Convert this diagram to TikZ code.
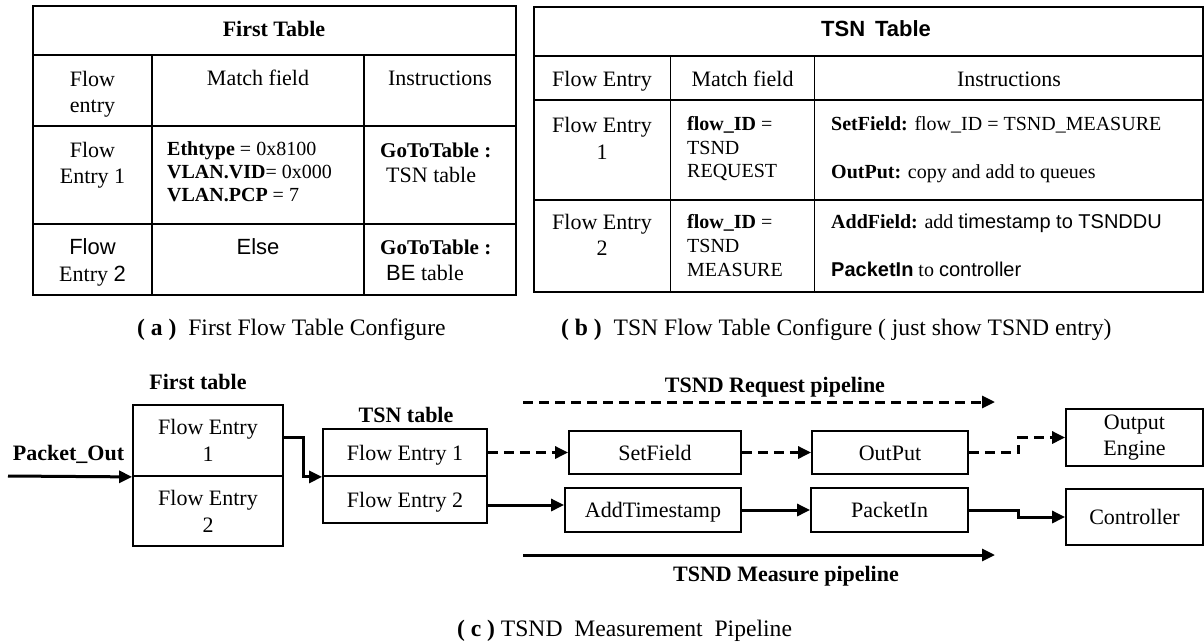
\documentclass[tikz,border=0pt]{standalone}
\usepackage{fontspec}
\setmainfont{Liberation Serif}
\setsansfont{Liberation Sans}
\usetikzlibrary{arrows.meta,calc}

\newcommand\txtL{\fontsize{22}{26}\selectfont}
\newcommand\txtS{\fontsize{20}{24}\selectfont}
\newcommand\txtC{\fontsize{23.6}{28}\selectfont}

\begin{document}
\begin{tikzpicture}[x=1pt,y=-1pt,
  t/.style={inner sep=0pt, anchor=base, font=\txtL},
  tl/.style={t, anchor=base west},
  ts/.style={inner sep=0pt, anchor=base west, font=\txtS},
  captext/.style={inner sep=0pt, font=\txtC},
  grid/.style={line width=1.8pt},
  box/.style={draw, line width=1.8pt, inner sep=0pt, align=center,
              font=\fontsize{22}{27}\selectfont},
  oneline/.style={text height=15pt, text depth=0pt},
  arr/.style={line width=3pt, -{Triangle[length=13pt,width=12pt]}},
  dsh/.style={arr, dash pattern=on 10pt off 6pt}]

\useasboundingbox (0,0) rectangle (1204,643);

% ---------- (a) first flow table ----------
\draw[grid] (33,6) rectangle (516,295);
\draw[grid] (33,55) -- (516,55) (33,126) -- (516,126) (33,224) -- (516,224);
\draw[grid] (152,55) -- (152,295) (364,55) -- (364,295);

\node[t] (ah) at (274,36.5) {\bfseries First Table};
\node[t] (ac1a) at (92.5,86.5) {Flow};
\node[t] (ac1b) at (92.5,112.5) {entry};
\node[t] (ac2) at (258,85.5) {Match field};
\node[t] (ac3) at (440,85.5) {Instructions};

\node[t] (ar1a) at (92.5,157.5) {Flow};
\node[t] (ar1b) at (92.5,183.5) {Entry 1};
\node[ts] (am1) at (167,155.5) {\textbf{Ethtype} = 0x8100};
\node[ts] (am2) at (167,178.5) {\textbf{VLAN.VID}= 0x000};
\node[ts] (am3) at (167,201.5) {\textbf{VLAN.PCP} = 7};
\node[tl, font=\fontsize{21}{25}\selectfont] (ai1) at (380,157.5) {\textbf{GoToTable :}};
\node[tl] (ai2) at (386,182.5) {TSN table};

\node[t] (ar2a) at (92.5,254.5) {\sffamily Flow};
\node[t] (ar2b) at (92.5,281) {Entry \sffamily 2};
\node[t] (aelse) at (258,254.5) {\sffamily Else};
\node[tl, font=\fontsize{21}{25}\selectfont] (ai3) at (380,254.5) {\textbf{GoToTable :}};
\node[tl] (ai4) at (386,280.5) {{\sffamily BE} table};

\node[captext, anchor=base west] (capa) at (137,335) {\textbf{( a )}\ \ First Flow Table Configure};

% ---------- (b) TSN flow table ----------
\draw[grid] (534,7) rectangle (1203,292);
\draw[grid] (534,56) -- (1203,56) (534,100) -- (1203,100) (534,200) -- (1203,200);
\draw[grid] (670.5,56) -- (670.5,292) (814.5,56) -- (814.5,292);

\node[t] (bh) at (876,36.5) {\sffamily\bfseries TSN\hspace{0.45em}Table};
\node[t] (bc1) at (602,86.5) {Flow Entry};
\node[t] (bc2) at (742.5,86.5) {Match field};
\node[t] (bc3) at (1009,86.5) {Instructions};

\node[t] (br1a) at (602,132.5) {Flow Entry};
\node[t] (br1b) at (602,159.5) {1};
\node[ts] (bm1) at (687,130.5) {\textbf{flow\_ID} =};
\node[ts] (bm2) at (687,154.5) {TSND};
\node[ts] (bm3) at (687,177.5) {REQUEST};
\node[ts] (bi1) at (831,130.5) {\textbf{SetField:} flow\_ID = TSND\_MEASURE};
\node[ts] (bi2) at (831,178.5) {\textbf{OutPut:} copy and add to queues};

\node[t] (br2a) at (602,229.5) {Flow Entry};
\node[t] (br2b) at (602,255.5) {2};
\node[ts] (bm4) at (687,228.5) {\textbf{flow\_ID} =};
\node[ts] (bm5) at (687,252.5) {TSND};
\node[ts] (bm6) at (687,276.5) {MEASURE};
\node[ts] (bi3) at (831,228.5) {\textbf{AddField:} add {\sffamily timestamp to TSNDDU}};
\node[ts] (bi4) at (831,276.5) {{\sffamily\bfseries PacketIn} to {\sffamily controller}};

\node[captext, anchor=base west] (capb) at (561,335) {\textbf{( b )}\ \ TSN Flow Table Configure ( just show TSND entry)};

% ---------- (c) TSND measurement pipeline ----------
\node[box, minimum width=150pt, minimum height=71pt] (ft1) at (208,440.5) {Flow Entry\\1};
\node[box, minimum width=150pt, minimum height=70pt] (ft2) at (208,511) {Flow Entry\\2};
\node[box, oneline, minimum width=164pt, minimum height=47pt] (ts1) at (405,452.5) {Flow Entry 1};
\node[box, oneline, minimum width=164pt, minimum height=47pt] (ts2) at (405,499.5) {Flow Entry 2};
\node[box, oneline, minimum width=172pt, minimum height=43pt] (sf) at (655,452.5) {SetField};
\node[box, oneline, minimum width=156pt, minimum height=43pt] (op) at (890,452.5) {OutPut};
\node[box, oneline, minimum width=176pt, minimum height=44pt] (at) at (653,510) {AddTimestamp};
\node[box, oneline, minimum width=157pt, minimum height=44pt] (pi) at (889.5,510) {PacketIn};
\node[box, minimum width=137pt, minimum height=57pt,
      font=\fontsize{22}{26}\selectfont] (oe) at (1134.5,437.5) {Output\\Engine};
\node[box, oneline, minimum width=137pt, minimum height=56pt] (ctrl) at (1134.5,517) {Controller};

\node[t] (lft) at (198,389.5) {\bfseries First table};
\node[t] (lts) at (406,422.5) {\bfseries TSN table};
\node[t] (lpo) at (68.5,460.5) {\bfseries Packet\_Out};
\node[t] (lrq) at (775,392.5) {\bfseries TSND Request pipeline};
\node[t] (lms) at (786,581.5) {\bfseries TSND Measure pipeline};
\node[captext, anchor=base] (capc) at (624.5,636) {\textbf{( c )} TSND\ \ Measurement\ \ Pipeline};

\coordinate (pin) at (8,476);
\coordinate (rqA) at (523,402);
\coordinate (rqB) at (995,402);
\coordinate (msA) at (523,555);
\coordinate (msB) at (995,555);
\coordinate (s2) at ($(ts2.east)+(0,5.5)$);

\draw[arr] (pin) -- (ft1.south west);
\draw[arr] ($(ft1.east)+(0,-3.5)$) -- ++(20,0) |- (ts1.south west);
\draw[dsh] (ts1.east) -- (sf.west);
\draw[dsh] (sf.east) -- (op.west);
\draw[dsh] (op.east) -- ++(50,0) |- (oe.west);
\draw[arr] (s2) -- (s2 -| at.west);
\draw[arr] (at.east) -- (pi.west);
\draw[arr] (pi.east) -- ++(50,0) |- (ctrl.west);
\draw[dsh] (rqA) -- (rqB);
\draw[arr] (msA) -- (msB);

\end{tikzpicture}
\end{document}
